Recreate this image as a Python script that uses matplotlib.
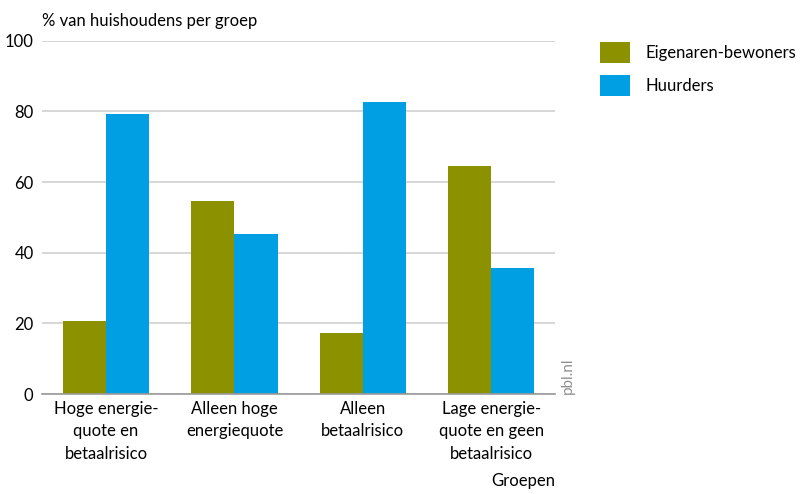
import numpy as np
import matplotlib.pyplot as plt

# Data
groups = ['Hoge energie-\nquote en\nbetaalrisico', 'Alleen hoge\nenergiequote',
          'Alleen\nbetaalrisico', 'Lage energie-\nquote en geen\nbetaalrisico']
eigenaren = [20.7, 54.7, 17.3, 64.6]
huurders = [79.3, 45.3, 82.7, 35.7]
series_names = ['Eigenaren-bewoners', 'Huurders']
y_ticks = [0, 20, 40, 60, 80, 100]

plt.rcParams['font.family'] = ['Lato', 'DejaVu Sans']

fig = plt.figure(figsize=(8.06, 4.94), dpi=100)
ax = fig.add_axes([0.052, 0.2024, 0.637, 0.715])

x = np.arange(len(groups))
w = 0.336
b1 = ax.bar(x - w / 2, eigenaren, w, color='#8c9100', label=series_names[0], zorder=3)
b2 = ax.bar(x + w / 2, huurders, w, color='#009fe3', label=series_names[1], zorder=3)

ax.set_xlim(-0.5, 3.5)
ax.set_ylim(0, 100)
ax.set_yticks(y_ticks)
ax.set_xticks(x)
ax.set_xticklabels(groups, fontsize=12, linespacing=1.5)
ax.tick_params(axis='both', length=0, labelsize=12)
ax.tick_params(axis='y', pad=6)
ax.tick_params(axis='x', pad=5)
ax.yaxis.grid(True, color='#d0d0d0', linewidth=1.2, zorder=0)
for s in ['top', 'right', 'left']:
    ax.spines[s].set_visible(False)
ax.spines['bottom'].set_color('#999999')
ax.spines['bottom'].set_linewidth(1.2)
ax.spines['bottom'].set_zorder(4)

fig.text(0.052, 0.958, '% van huishoudens per groep', fontsize=12, va='center', ha='left')
fig.text(0.689, 0.026, 'Groepen', fontsize=12, ha='right', va='center')
fig.text(0.705, 0.24, 'pbl.nl', fontsize=11, rotation=90, color='#909090', ha='center', va='center')

fig.legend(handles=[b1, b2], loc='upper left', bbox_to_anchor=(0.744, 0.914), frameon=False,
           fontsize=12, handlelength=1.8, handleheight=1.55, labelspacing=0.72,
           handletextpad=0.95, borderpad=0, borderaxespad=0)

fig.savefig('out.png', dpi=100)
